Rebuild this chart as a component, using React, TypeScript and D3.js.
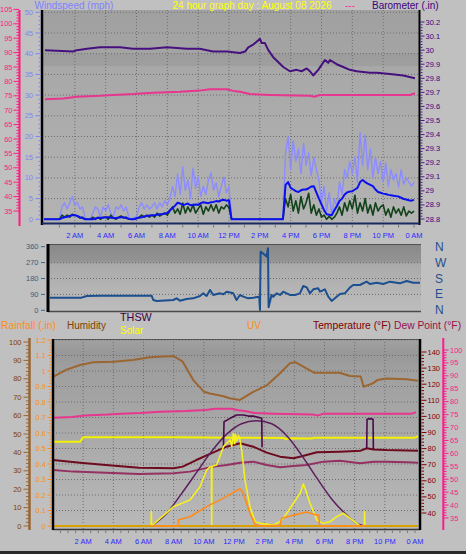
import React from "react";
import * as d3 from "d3";

const FONT = "'Liberation Sans', Arial, Helvetica, sans-serif";

// ---------- time axis ----------
const tickHours = [2, 4, 6, 8, 10, 12, 14, 16, 18, 20, 22, 24];
const tickLabels = ["2 AM", "4 AM", "6 AM", "8 AM", "10 AM", "12 PM", "2 PM", "4 PM", "6 PM", "8 PM", "10 PM", "0 AM"];

// ---------- top panel: wind (10-minute samples from 0:00) ----------
const windGust = [
  0, 0, 0, 0, 0, 0,
  0, 3, 4, 2.5, 4, 5.5,
  3.5, 4, 2.5, 3, 0.5, 0,
  0, 1.5, 3, 2.5, 0.5, 3,
  2, 3.5, 1.5, 0.5, 3, 2.5,
  3.5, 2, 3, 0.5, 0, 0.5,
  0.5, 3, 4, 2.5, 3.5, 2.5,
  3, 4, 2.5, 4, 3, 4.5,
  3.5, 5, 8, 5.5, 11, 6,
  12.7, 7, 9.5, 5, 12.4, 7.5,
  10.2, 5.5, 8, 6, 9.5, 11.3,
  7, 8.8, 5.5, 8, 10.2, 6.4,
  8, 0, 0, 0, 0, 0,
  0, 0, 0, 0, 0, 0,
  0, 0, 0, 0, 0, 0,
  0, 0, 0, 0, 16, 20,
  12, 19, 14, 17, 11, 18.4,
  13, 16, 10.5, 15, 12, 9.5,
  4, 8, 2, 6.5, 1, 5,
  3, 9, 6, 12, 10, 14,
  11, 15, 9, 21, 13, 20.4,
  12, 17, 10, 15, 11, 14,
  9, 13.6, 8, 12, 9.5, 11,
  7.8, 12, 8.5, 10, 9, 8,
  9,
];
const windSpeed = [
  0, 0, 0, 0, 0, 0,
  0, 1, 0.5, 1, 0.5, 1.2,
  1, 0.8, 0.3, 0.5, 0, 0,
  0, 0.5, 0, 0.5, 0, 0.5,
  0.5, 0, 1, 0.3, 0, 0.5,
  0.8, 0.3, 0.5, 0, 0, 0,
  0.3, 0.5, 1, 0.5, 1, 0.5,
  1, 0.5, 1.5, 0.8, 1.2, 1.5,
  1, 2, 3, 1.5, 2.5, 1.2,
  3.9, 1.5, 3, 1.8, 3.5, 1.5,
  2.5, 3.5, 1.2, 3, 2, 3.5,
  2, 3.5, 1.5, 3, 2.5, 3.5,
  2.8, 0, 0, 0, 0, 0,
  0, 0, 0, 0, 0, 0,
  0, 0, 0, 0, 0, 0,
  0, 0, 0, 0, 5, 3,
  6, 2, 4.5, 1.5, 5.5, 2.5,
  4, 6.3, 1.5, 3.5, 1, 2.5,
  0.5, 1, 0, 0.7, 0, 0.5,
  1.5, 3, 1, 4, 2, 4.5,
  2.5, 5.8, 1.5, 4, 2, 5,
  1.5, 3.5, 1, 4, 2, 3,
  3.5, 1, 2.5, 0.5, 3, 1.5,
  2.5, 1, 3, 0.8, 2, 1.5,
  2,
];
const windAvg = [
  0, 0, 0, 0, 0, 0,
  0, 0.3, 0.5, 0.6, 0.8, 1,
  1, 0.8, 0.5, 0.3, 0, 0,
  0, 0, 0.2, 0.3, 0.4, 0.4,
  0.5, 0.5, 0.4, 0.3, 0.3, 0.4,
  0.5, 0.5, 0.3, 0.1, 0, 0,
  0.2, 0.4, 0.5, 0.7, 0.8, 0.9,
  1, 1, 1.1, 1.2, 1.2, 1.4,
  1.5, 2.2, 2.7, 3.3, 4, 3.8,
  3.5, 3.6, 3.8, 3.4, 3.5, 3.6,
  3.5, 3.9, 4.1, 4, 3.9, 4.1,
  4.2, 4.4, 4.3, 4.6, 4.7, 4.5,
  4.6, 0, 0, 0, 0, 0,
  0, 0, 0, 0, 0, 0,
  0, 0, 0, 0, 0, 0,
  0, 0, 0, 0, 8.3, 9,
  7.6, 7.2, 6.8, 6.6, 7, 7.2,
  7.2, 7.5, 7.9, 8, 6.5, 5,
  3.6, 2.2, 1.2, 1.1, 1, 2.2,
  3.2, 4.4, 5, 6, 6.5, 6.7,
  6.8, 7.2, 7.6, 9, 9.5, 9,
  8.6, 8.3, 8, 7.2, 6.6, 6.4,
  6.2, 6.1, 5.9, 5.8, 5.7, 5.6,
  5.5, 5.2, 4.9, 4.8, 4.6, 4.5,
  4.7,
];

// barometer [hour, inHg]
const barometer: [number, number][] = [
  [0.06, 30.0], [1.88, 29.99], [2.14, 30.0], [2.79, 30.01], [3.63, 30.02], [4.28, 30.02], [4.93, 30.02],
  [5.77, 30.01], [6.87, 30.01], [7.98, 30.02], [9.27, 30.01], [10.1, 30.01], [10.96, 29.99], [11.87, 29.99],
  [12.71, 29.98], [13.04, 29.99], [13.25, 30.02], [13.57, 30.04], [13.79, 30.06], [14.01, 30.08], [14.12, 30.05],
  [14.33, 30.05], [14.55, 30.0], [14.87, 29.95], [15.52, 29.88], [15.95, 29.85], [16.39, 29.86], [16.71, 29.85],
  [17.04, 29.87], [17.25, 29.85], [17.46, 29.82], [17.79, 29.86], [18.22, 29.93], [18.44, 29.91], [18.55, 29.93],
  [18.98, 29.9], [19.41, 29.88], [19.84, 29.86], [20.28, 29.85], [21.14, 29.84], [21.58, 29.84], [22.44, 29.83],
  [23.3, 29.82], [24.06, 29.8],
];

// pink series (°F) shown in both panels
const pinkSeries: [number, number][] = [
  [0.06, 73.8], [1.25, 74.1], [2.12, 74.7], [3.63, 75.0], [4.5, 75.3], [5.79, 75.6], [7.09, 76.1], [8.82, 76.4],
  [10.1, 76.8], [10.77, 77.3], [11.85, 77.3], [12.28, 76.7], [12.71, 76.4], [13.36, 75.6], [14.66, 75.3],
  [17.25, 75.0], [17.57, 74.7], [17.9, 75.3], [23.74, 75.3], [24.06, 75.9],
];

// ---------- middle panel: wind direction [hour, degrees] ----------
const windDir: [number, number][] = [
  [0, 71.5], [2.05, 71.5], [2.38, 81], [3.24, 82.8], [6.59, 82.8], [6.7, 58.3], [6.92, 52.6], [8.0, 58.3],
  [8.21, 67.7], [8.43, 54.5], [8.86, 64], [9.29, 67.7], [9.73, 81], [9.94, 96], [10.16, 81], [10.38, 115],
  [10.59, 86.6], [11.02, 96], [11.24, 90.4], [11.46, 105.5], [11.89, 96], [12.1, 58.3], [12.32, 86.6],
  [12.54, 77.2], [12.86, 67.7], [13.19, 71.5], [13.57, 77.2], [13.62, 2], [13.66, 332], [13.94, 313],
  [14.05, 304], [14.14, 351], [14.18, 17], [14.37, 87], [14.48, 77], [14.7, 96], [14.92, 87], [15.13, 105.5],
  [15.35, 96], [15.56, 87], [15.89, 87], [16.21, 96], [16.43, 137.5], [16.65, 130], [16.86, 96], [17.08, 118.7],
  [17.4, 124.3], [17.51, 105.5], [17.83, 118.7], [18.05, 77.2], [18.27, 52.6], [18.48, 67.7], [18.81, 92.3],
  [19.13, 96], [19.46, 130], [19.67, 143.2], [20.1, 143.2], [20.54, 162], [20.75, 148.9], [21.19, 156.4],
  [21.62, 148.9], [22.05, 162], [22.7, 152.6], [23.13, 165.8], [23.56, 156.4], [24, 156.4],
];

// ---------- bottom panel ----------
const humidity: [number, number][] = [
  [0, 81], [0.9, 85], [1.8, 87.5], [2.67, 89], [4.0, 89.3], [5.3, 90.2], [6.4, 91.7], [8.0, 92.4], [8.6, 89.3],
  [9.3, 79.3], [10.0, 73], [10.4, 72], [10.9, 71.2], [11.3, 70.5], [11.7, 69.4], [12.4, 68.5], [13.3, 73],
  [14.2, 76.6], [15.05, 83], [15.7, 88.4], [16.05, 89], [16.8, 85.7], [17.3, 83.3], [19.0, 83.3], [19.7, 81.5],
  [20.4, 81.2], [20.6, 75.7], [21.2, 77.5], [21.5, 79.3], [22.1, 80.2], [23.45, 79.7], [24.2, 79],
];
const heatLine: [number, number][] = [
  [0, 84.3], [1.8, 84.3], [2.0, 87.0], [8, 87.0], [12, 86.8], [15.3, 86.6], [15.45, 85.8], [15.6, 86.5],
  [17.2, 86.3], [17.3, 86.8], [24.0, 86.8], [24.2, 87.8],
];
const temperature: [number, number][] = [
  [0, 72.9], [1.8, 71.2], [3.5, 69.8], [5.7, 68.1], [8.0, 67.8], [8.6, 68.8], [9.5, 72.9], [10.6, 77.5],
  [11.5, 81.2], [12.4, 83.3], [13.28, 81.2], [14.17, 77.5], [15.05, 75], [15.94, 74], [16.5, 75.2], [17.5, 77.7],
  [19.03, 78.1], [20.4, 78.7], [20.8, 80.2], [21.24, 79.5], [22.1, 79.1], [24.2, 78.7],
];
const dewPoint: [number, number][] = [
  [0, 66.7], [1.35, 65.7], [3.5, 65.0], [5.7, 64.2], [8.0, 64.7], [9.08, 65.7], [9.75, 67.1], [10.63, 68.8],
  [11.52, 69.8], [12.4, 71.2], [13.28, 71.9], [14.17, 69.8], [15.05, 68.4], [15.94, 69.2], [16.82, 69.8],
  [17.93, 71.9], [19.03, 72.5], [20.36, 70.9], [21.24, 71.9], [22.1, 71.9], [23.45, 71.5], [24.2, 71.2],
];
const thsw: ([number, number] | null)[] = [
  [11.3, 81.2], [11.34, 96.7], [11.74, 98.8], [12.18, 100.9], [12.62, 100.9], [12.95, 100.2], [13.28, 100.2],
  [13.61, 99.4], [13.84, 98.8], [13.86, 80.8], null,
  [20.8, 80.2], [20.82, 98.2], [21.02, 98.6], [21.22, 98.2], [21.24, 79.6],
];
const solarMax: [number, number][] = [
  [6.54, 0], [7.5, 90], [8.5, 240], [9.5, 400], [10.5, 560], [11.5, 690], [12.5, 770], [13.5, 793], [14.5, 770],
  [15.5, 680], [16.5, 530], [17.5, 360], [18.5, 200], [19.5, 80], [20.2, 15], [20.69, 0],
];
const solar: [number, number][] = [
  [0, 0], [6.5, 0], [6.52, 108], [6.54, 0], [7.98, 145], [9.08, 196], [9.75, 296], [10.19, 421], [10.41, 446],
  [10.5, 446], [10.52, 0], [10.54, 450], [10.85, 459], [11.3, 597], [11.74, 647], [11.85, 600], [11.96, 698],
  [12.05, 620], [12.1, 690], [12.18, 640], [12.3, 680], [12.4, 647], [12.51, 572], [12.73, 346], [13.06, 145],
  [13.4, 32], [13.73, 20], [14.61, 8], [15.05, 32], [15.27, 58], [15.94, 171], [16.38, 246], [16.6, 316],
  [16.82, 246], [17.04, 171], [17.49, 45], [17.93, 20], [18.37, 32], [18.81, 70], [19.25, 96], [19.7, 58],
  [20.36, 0], [20.64, 0], [20.66, 108], [20.68, 0], [24.2, 0],
];
const uvIndex: [number, number][] = [
  [6.54, 0], [8.31, 0], [8.32, 0.4], [9.08, 0.6], [10.19, 1.25], [11.3, 1.8], [12.4, 2.4], [12.62, 2.1],
  [13.06, 0.8], [13.4, 0.1], [13.73, 0], [15.05, 0.05], [15.16, 0.5], [15.94, 0.7], [16.82, 0.9], [17.49, 0.7],
  [17.64, 0.7], [17.66, 0], [20.69, 0],
];
const rainfall: [number, number][] = [[0, 0], [24.2, 0]];

// ---------- axis tick labels ----------
const windTicks = [0, 5, 10, 15, 20, 25, 30, 35, 40, 45, 50];
const pinkTopTicks = [35, 40, 45, 50, 55, 60, 65, 70, 75, 80, 85, 90, 95, 100, 105];
const baroTicks = [28.8, 28.9, 29.0, 29.1, 29.2, 29.3, 29.4, 29.5, 29.6, 29.7, 29.8, 29.9, 30.0, 30.1, 30.2];
const dirTicks = [0, 90, 180, 270, 360];
const dirLetters = ["N", "E", "S", "W", "N"];
const humTicks = [0, 10, 20, 30, 40, 50, 60, 70, 80, 90, 100];
const rainTicks = [0, 0.1, 0.2, 0.3, 0.4, 0.5, 0.6, 0.7, 0.8, 0.9, 1.0, 1.1, 1.2];
const tempTicks = [40, 50, 60, 70, 80, 90, 100, 110, 120, 130, 140];
const dewTicks = [35, 40, 45, 50, 55, 60, 65, 70, 75, 80, 85, 90, 95, 100];

const fmt = (v: number) => String(+v.toFixed(2));

type Sc = d3.ScaleLinear<number, number>;

function pathOf(data: ([number, number] | null)[], x: Sc, y: Sc, curve: d3.CurveFactory = d3.curveLinear) {
  return (
    d3
      .line<[number, number] | null>()
      .defined((d) => d !== null)
      .x((d) => x((d as [number, number])[0]))
      .y((d) => y((d as [number, number])[1]))
      .curve(curve)(data) || ""
  );
}

function minorTicks(scale: Sc, step: number) {
  const [a, b] = scale.domain();
  const n = Math.round((b - a) / step);
  return d3.range(0, n + 1).map((i) => a + i * step);
}

export default function App() {
  // top
  const xT = d3.scaleLinear().domain([0, 24]).range([44, 414]);
  const windY = d3.scaleLinear().domain([0, 50]).range([219.3, 12.3]);
  const pinkTopY = d3.scaleLinear().domain([35, 105]).range([211, 9.4]);
  const baroY = d3.scaleLinear().domain([28.8, 30.2]).range([219, 22]);
  // middle
  const xM = d3.scaleLinear().domain([0, 24]).range([50, 420]);
  const dirY = d3.scaleLinear().domain([0, 360]).range([310.3, 246.7]);
  // bottom
  const xB = d3.scaleLinear().domain([0, 24]).range([53, 415]);
  const humY = d3.scaleLinear().domain([0, 100]).range([526, 342]);
  const rainY = d3.scaleLinear().domain([0, 1.2]).range([526, 340]);
  const tempY = d3.scaleLinear().domain([40, 140]).range([513, 352]);
  const dewY = d3.scaleLinear().domain([35, 100]).range([518, 350]);
  const solarY = d3.scaleLinear().domain([0, 1400]).range([526, 340]);
  const uvY = d3.scaleLinear().domain([0, 12]).range([526, 340]);

  const windHours = windGust.map((_, i) => i / 6);
  const wPath = (vals: number[]) =>
    pathOf(vals.map((v, i) => [windHours[i], v] as [number, number]), xT, windY);

  const topBox = { x0: 42, x1: 419.5, y0: 10, y1: 224 };
  const midBox = { x0: 48, x1: 421, y0: 244, y1: 312 };
  const botBox = { x0: 53, x1: 420, y0: 339, y1: 530 };

  const labelStyle = { fontSize: 7.5, fontFamily: FONT } as const;

  return (
    <svg
      width={466}
      height={554}
      viewBox="0 0 466 554"
      style={{ position: "absolute", left: 0, top: 0, fontFamily: FONT }}
    >
      <defs>
        <linearGradient id="gTop" x1="0" y1="0" x2="0" y2="1">
          <stop offset="0" stopColor="#a0a0a0" />
          <stop offset="0.2" stopColor="#a4a4a4" />
          <stop offset="0.205" stopColor="#9c9c9c" />
          <stop offset="0.26" stopColor="#9f9f9f" />
          <stop offset="0.265" stopColor="#a8a8a8" />
          <stop offset="1" stopColor="#b3b3b3" />
        </linearGradient>
        <linearGradient id="gMid" x1="0" y1="0" x2="0" y2="1">
          <stop offset="0" stopColor="#898989" />
          <stop offset="0.25" stopColor="#939393" />
          <stop offset="0.3" stopColor="#aaaaaa" />
          <stop offset="1" stopColor="#bebebe" />
        </linearGradient>
        <linearGradient id="gBot" x1="0" y1="0" x2="0" y2="1">
          <stop offset="0" stopColor="#a2a2a2" />
          <stop offset="0.08" stopColor="#979797" />
          <stop offset="0.14" stopColor="#9e9e9e" />
          <stop offset="1" stopColor="#b9b9b9" />
        </linearGradient>
        <clipPath id="cTop">
          <rect x={topBox.x0} y={topBox.y0} width={topBox.x1 - topBox.x0} height={topBox.y1 - topBox.y0} />
        </clipPath>
        <clipPath id="cMid">
          <rect x={midBox.x0} y={midBox.y0} width={midBox.x1 - midBox.x0} height={midBox.y1 - midBox.y0} />
        </clipPath>
        <clipPath id="cBot">
          <rect x={botBox.x0} y={botBox.y0} width={botBox.x1 - botBox.x0} height={botBox.y1 - botBox.y0} />
        </clipPath>
        <clipPath id="cBotAxis">
          <rect x={0} y={338} width={466} height={216} />
        </clipPath>
      </defs>

      <rect x={0} y={0} width={466} height={554} fill="#c0c0c0" />

      {/* ================= TOP PANEL ================= */}
      <rect x={topBox.x0} y={topBox.y0} width={topBox.x1 - topBox.x0} height={topBox.y1 - topBox.y0} fill="url(#gTop)" />
      <g stroke="#6e6e6e" strokeWidth={1} strokeDasharray="1,2">
        {windTicks.filter((t) => t > 0).map((t) => (
          <line key={"wg" + t} x1={topBox.x0} x2={topBox.x1} y1={windY(t)} y2={windY(t)} />
        ))}
        {tickHours.filter((h) => h < 24).map((h) => (
          <line key={"tg" + h} x1={xT(h)} x2={xT(h)} y1={topBox.y0} y2={topBox.y1} />
        ))}
      </g>
      <g clipPath="url(#cTop)" fill="none" strokeLinejoin="round">
        <path d={pathOf(pinkSeries, xT, pinkTopY)} stroke="#e8358f" strokeWidth={2} />
        <path d={pathOf(barometer, xT, baroY)} stroke="#46107f" strokeWidth={2} />
        <path d={wPath(windGust)} stroke="#8c8cff" strokeWidth={1.4} />
        <path d={wPath(windSpeed)} stroke="#12421a" strokeWidth={1.6} />
        <path d={wPath(windAvg)} stroke="#0a10f0" strokeWidth={2} />
      </g>
      <line x1={topBox.x0} x2={topBox.x0} y1={topBox.y0} y2={topBox.y1 + 1} stroke="#000" strokeWidth={2.5} />
      <line x1={topBox.x1} x2={topBox.x1} y1={topBox.y0} y2={topBox.y1 + 1} stroke="#000" strokeWidth={2} />
      <line x1={topBox.x0} x2={topBox.x1} y1={topBox.y1 - 0.5} y2={topBox.y1 - 0.5} stroke="#1a2a60" strokeWidth={2} />
      {/* hour ticks */}
      <g stroke="#767676" strokeWidth={1}>
        {d3.range(1, 25).map((h) => (
          <line key={"tt" + h} x1={xT(h)} x2={xT(h)} y1={topBox.y1 + 0.5} y2={topBox.y1 + 3.5} />
        ))}
      </g>
      <g fill="#2a2aff" textAnchor="middle" style={labelStyle}>
        {tickHours.map((h, i) => (
          <text key={"tl" + h} x={xT(h)} y={238}>{tickLabels[i]}</text>
        ))}
      </g>

      {/* pink left axis */}
      <line x1={19.5} x2={19.5} y1={10} y2={226} stroke="#ff1a80" strokeWidth={2} />
      <g stroke="#ff1a80" strokeWidth={1}>
        {minorTicks(pinkTopY, 1).map((t) => (
          <line key={"pm" + t} x1={t % 5 === 0 ? 13.5 : 16.5} x2={19} y1={pinkTopY(t)} y2={pinkTopY(t)} />
        ))}
      </g>
      <g fill="#ff1a80" textAnchor="end" dominantBaseline="central" style={labelStyle}>
        {pinkTopTicks.map((t) => (
          <text key={"pl" + t} x={12.5} y={pinkTopY(t)}>{t}</text>
        ))}
      </g>
      {/* wind axis */}
      <g stroke="#8080ff" strokeWidth={1}>
        {minorTicks(windY, 1).map((t) => (
          <line key={"wm" + t} x1={t % 5 === 0 ? 35.5 : 38.5} x2={40.5} y1={windY(t)} y2={windY(t)} />
        ))}
      </g>
      <g fill="#8080ff" textAnchor="end" dominantBaseline="central" style={labelStyle}>
        {windTicks.map((t) => (
          <text key={"wl" + t} x={33} y={windY(t)}>{t}</text>
        ))}
      </g>
      {/* barometer axis */}
      <g stroke="#4a1a8a" strokeWidth={1}>
        {minorTicks(baroY, 0.02).map((t, i) => (
          <line key={"bm" + i} x1={420.5} x2={i % 5 === 0 ? 424.5 : 422.5} y1={baroY(t)} y2={baroY(t)} />
        ))}
      </g>
      <g fill="#400080" dominantBaseline="central" style={labelStyle}>
        {baroTicks.map((t) => (
          <text key={"bl" + t} x={425.5} y={baroY(t)}>{fmt(t)}</text>
        ))}
      </g>

      {/* header */}
      <text x={34.5} y={9} fill="#8080ff" fontSize={10}>Windspeed (mph)</text>
      <text x={172.5} y={9} fill="#ffff00" fontSize={10}>24 hour graph day : August 08 2026</text>
      <text x={345} y={9} fill="#ff3399" fontSize={10}>---</text>
      <text x={372} y={9} fill="#400080" fontSize={10}>Barometer (.in)</text>

      {/* ================= MIDDLE PANEL ================= */}
      <rect x={midBox.x0} y={midBox.y0} width={midBox.x1 - midBox.x0} height={midBox.y1 - midBox.y0} fill="url(#gMid)" />
      <g stroke="#6a6a6a" strokeWidth={1} strokeDasharray="1,2">
        {dirTicks.filter((t) => t > 0 && t < 360).map((t) => (
          <line key={"dg" + t} x1={midBox.x0} x2={midBox.x1} y1={dirY(t)} y2={dirY(t)} />
        ))}
      </g>
      <g clipPath="url(#cMid)">
        <path d={pathOf(windDir, xM, dirY)} fill="none" stroke="#1b4f8f" strokeWidth={2} strokeLinejoin="round" />
      </g>
      <line x1={midBox.x0} x2={midBox.x1} y1={midBox.y0 + 0.5} y2={midBox.y0 + 0.5} stroke="#505050" strokeWidth={1} />
      <line x1={midBox.x0} x2={midBox.x1} y1={midBox.y1 - 0.5} y2={midBox.y1 - 0.5} stroke="#4a4a4a" strokeWidth={1.5} />
      <line x1={midBox.x0} x2={midBox.x0} y1={midBox.y0} y2={midBox.y1} stroke="#000" strokeWidth={3} />
      <g stroke="#4a6080" strokeWidth={1}>
        {dirTicks.map((t) => (
          <line key={"dt" + t} x1={41} x2={45} y1={dirY(t)} y2={dirY(t)} />
        ))}
      </g>
      <g fill="#3f5a80" textAnchor="end" dominantBaseline="central" style={labelStyle}>
        {dirTicks.map((t) => (
          <text key={"dl" + t} x={38.5} y={dirY(t)}>{t}</text>
        ))}
      </g>
      <g fill="#1f4f8f" dominantBaseline="central" fontSize={12}>
        {dirTicks.map((t, i) => (
          <text key={"dd" + t} x={435} y={dirY(t)}>{dirLetters[i]}</text>
        ))}
      </g>

      {/* ================= BOTTOM PANEL ================= */}
      <text x={1} y={329} fill="#ff8c1a" fontSize={10.3}>Rainfall (.in)</text>
      <text x={67} y={329} fill="#804000" fontSize={10}>Humidity</text>
      <text x={120} y={321} fill="#400040" fontSize={10.8}>THSW</text>
      <text x={120} y={334} fill="#ffff00" fontSize={10}>Solar</text>
      <text x={247} y={329} fill="#ff8c1a" fontSize={10}>UV</text>
      <text x={313} y={329} fill="#800000" fontSize={10.3}>Temperature (°F)</text>
      <text x={394} y={329} fill="#99104a" fontSize={10.3}>Dew Point (°F)</text>

      <rect x={botBox.x0} y={botBox.y0} width={botBox.x1 - botBox.x0} height={botBox.y1 - botBox.y0} fill="url(#gBot)" />
      <g stroke="#6e6e6e" strokeWidth={1} strokeDasharray="1,2">
        {rainTicks.filter((t) => t > 0).map((t) => (
          <line key={"rg" + t} x1={botBox.x0} x2={botBox.x1} y1={rainY(t)} y2={rainY(t)} />
        ))}
        {tickHours.filter((h) => h < 24).map((h) => (
          <line key={"bg" + h} x1={xB(h)} x2={xB(h)} y1={botBox.y0} y2={botBox.y1} />
        ))}
      </g>
      <g clipPath="url(#cBot)" fill="none" strokeLinejoin="round">
        <path d={pathOf(humidity, xB, humY)} stroke="#9b6631" strokeWidth={2} />
        <path d={pathOf(pinkSeries, xB, dewY)} stroke="#e8358f" strokeWidth={2} />
        <path d={pathOf(heatLine, xB, tempY)} stroke="#f2f200" strokeWidth={2} />
        <path d={pathOf(dewPoint, xB, tempY)} stroke="#943062" strokeWidth={2} />
        <path d={pathOf(temperature, xB, tempY)} stroke="#6e0a1e" strokeWidth={2} />
        <path d={pathOf(solarMax, xB, solarY, d3.curveMonotoneX)} stroke="#5c1e5c" strokeWidth={1.5} />
        <path d={pathOf(thsw, xB, tempY)} stroke="#4a0a4a" strokeWidth={1.6} />
        <path d={pathOf(solar, xB, solarY)} stroke="#f6f020" strokeWidth={1.6} />
        <path d={pathOf(rainfall, xB, rainY)} stroke="#d9a000" strokeWidth={2} />
        <path d={pathOf(uvIndex, xB, uvY)} stroke="#ff8c1a" strokeWidth={1.6} />
      </g>
      <line x1={botBox.x0} x2={botBox.x1} y1={botBox.y0 + 0.5} y2={botBox.y0 + 0.5} stroke="#555" strokeWidth={1} />
      <line x1={botBox.x0} x2={botBox.x1} y1={botBox.y1 - 0.5} y2={botBox.y1 - 0.5} stroke="#3a3a3a" strokeWidth={1.5} />
      <line x1={botBox.x0} x2={botBox.x0} y1={botBox.y0} y2={botBox.y1} stroke="#000" strokeWidth={2.5} />
      <line x1={botBox.x1} x2={botBox.x1} y1={botBox.y0} y2={botBox.y1} stroke="#000" strokeWidth={2.5} />
      <g stroke="#777" strokeWidth={1}>
        {d3.range(1, 49).map((i) => (
          <line key={"bt" + i} x1={xB(i / 2)} x2={xB(i / 2)} y1={botBox.y1 + 0.5} y2={botBox.y1 + 3} />
        ))}
      </g>
      <g fill="#2a2aff" textAnchor="middle" style={labelStyle}>
        {tickHours.map((h, i) => (
          <text key={"bl" + h} x={xB(h)} y={544}>{tickLabels[i]}</text>
        ))}
      </g>

      <g clipPath="url(#cBotAxis)">
        {/* humidity axis */}
        <line x1={29.5} x2={29.5} y1={338} y2={530} stroke="#996633" strokeWidth={2.5} />
        <g stroke="#996633" strokeWidth={1}>
          {minorTicks(humY, 2).map((t) => (
            <line key={"hm" + t} x1={t % 10 === 0 ? 23.5 : 26} x2={29} y1={humY(t)} y2={humY(t)} />
          ))}
        </g>
        <g fill="#804000" textAnchor="end" dominantBaseline="central" style={labelStyle}>
          {humTicks.map((t) => (
            <text key={"hl" + t} x={21.5} y={humY(t)}>{t}</text>
          ))}
        </g>
        {/* rain axis */}
        <g stroke="#ff8c1a" strokeWidth={1}>
          {minorTicks(rainY, 0.02).map((t, i) => (
            <line key={"rm" + i} x1={i % 5 === 0 ? 47.5 : 49.5} x2={51.5} y1={rainY(t)} y2={rainY(t)} />
          ))}
        </g>
        <g fill="#ff8c1a" textAnchor="end" dominantBaseline="central" style={labelStyle}>
          {rainTicks.map((t) => (
            <text key={"rl" + t} x={46} y={rainY(t)}>{fmt(t)}</text>
          ))}
        </g>
        {/* temperature axis */}
        <g stroke="#800000" strokeWidth={1}>
          {minorTicks(tempY, 2).map((t) => (
            <line key={"tm" + t} x1={421.5} x2={t % 10 === 0 ? 426.5 : 424} y1={tempY(t)} y2={tempY(t)} />
          ))}
        </g>
        <g fill="#800000" dominantBaseline="central" style={labelStyle}>
          {tempTicks.map((t) => (
            <text key={"tel" + t} x={427.5} y={tempY(t)}>{t}</text>
          ))}
        </g>
        {/* dew point axis */}
        <line x1={443.3} x2={443.3} y1={338} y2={530} stroke="#ff1a8c" strokeWidth={2} />
        <g stroke="#ff1a8c" strokeWidth={1}>
          {minorTicks(dewY, 1).map((t) => (
            <line key={"dm" + t} x1={444} x2={t % 5 === 0 ? 448.5 : 446.5} y1={dewY(t)} y2={dewY(t)} />
          ))}
        </g>
        <g fill="#ff1a8c" dominantBaseline="central" style={labelStyle}>
          {dewTicks.map((t) => (
            <text key={"dl" + t} x={450} y={dewY(t)}>{t}</text>
          ))}
        </g>
      </g>

      <rect x={0} y={551} width={466} height={3} fill="#2a2a2a" />
    </svg>
  );
}
